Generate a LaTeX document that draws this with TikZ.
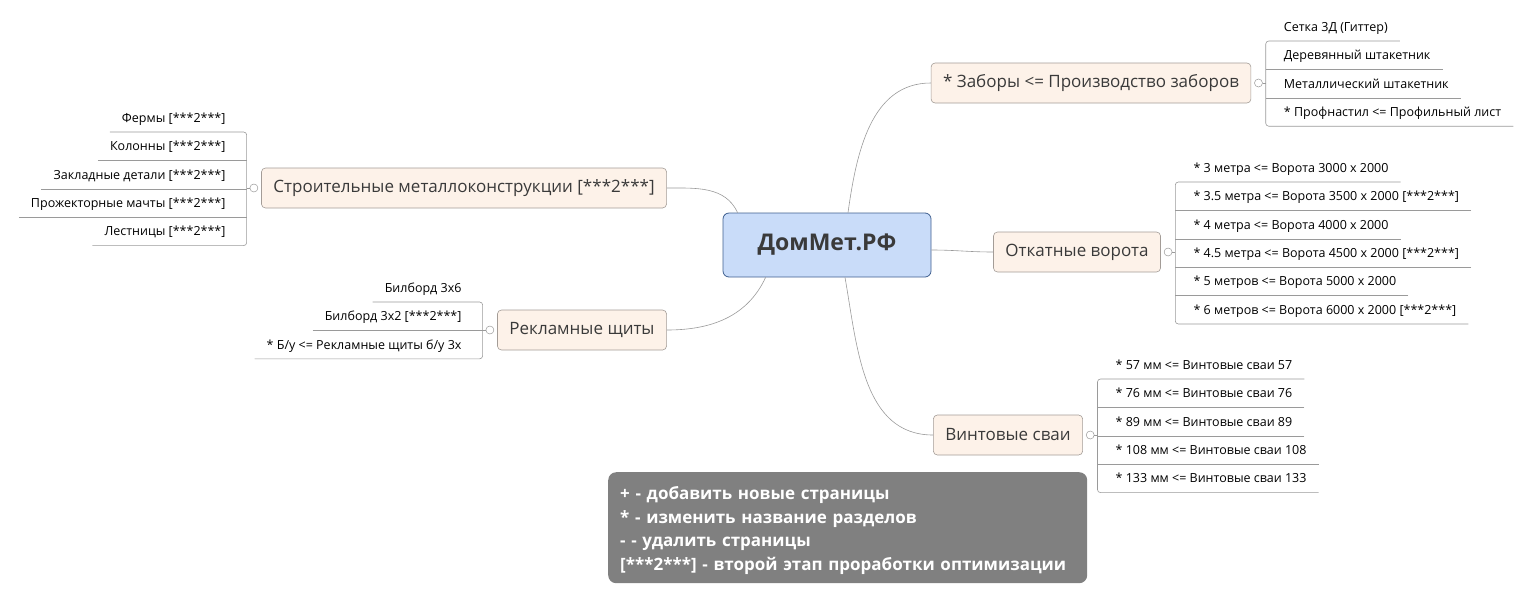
\documentclass[tikz,border=0pt]{standalone}
\usepackage{fontspec}
\setmainfont{Open Sans}
\usepackage{tikz}
\usetikzlibrary{positioning, calc}
\definecolor{MapRootFill}{HTML}{C9DCF9}
\definecolor{MapRootLine}{HTML}{3F5F8F}
\definecolor{MapTopicFill}{HTML}{FDF2E9}
\definecolor{MapTopicLine}{HTML}{A39C97}
\definecolor{MapInk}{HTML}{3A3A3A}
\definecolor{MapWire}{HTML}{9A9A9A}
\definecolor{MapNote}{HTML}{808080}

\begin{document}
\begin{tikzpicture}[x=1pt, y=-1pt,
    root/.style={
      rectangle, rounded corners=6pt, draw=MapRootLine, fill=MapRootFill, line width=0.8pt,
      minimum width=208pt, minimum height=64pt, text=MapInk,
      font=\fontsize{23}{26}\selectfont\bfseries
    },
    topic/.style={
      rectangle, rounded corners=4pt, draw=MapTopicLine, fill=MapTopicFill, line width=0.6pt,
      minimum height=40pt, inner xsep=12pt, text=MapInk, font=\fontsize{17}{20}\selectfont
    },
    leaf/.style={inner xsep=12pt, inner ysep=0pt, minimum height=28pt, text=black,
      text height=9pt, text depth=0pt, font=\fontsize{12.5}{15}\selectfont},
    knob/.style={circle, draw=MapWire, fill=white, line width=0.5pt, minimum size=8pt, inner sep=0pt},
    wire/.style={line width=0.6pt, color=MapWire},
    twig/.style={line width=0.6pt, color=MapWire, rounded corners=3pt},
    note/.style={rectangle, rounded corners=8pt, fill=MapNote, text=white, anchor=north west,
      minimum width=479pt, minimum height=111pt, text width=455pt, inner xsep=12pt, align=left,
      font=\fontsize{17}{23.5}\selectfont\bfseries}
  ]
  \useasboundingbox (0,0) rectangle (1530,600);

  % центр и ветви
  \node[root] (dom) at (827,245) {ДомМет.РФ};
  \node[topic] (zab) at (1091,83) {* Заборы <= Производство заборов};
  \node[topic] (otk) at (1077,252) {Откатные ворота};
  \node[topic] (vin) at (1008,435) {Винтовые сваи};
  \node[topic] (str) at (464,188) {Строительные металлоконструкции [***2***]};
  \node[topic] (rek) at (582,330) {Рекламные щиты};

  \draw[wire] ([xshift=21pt]dom.north) to[out=82, in=180] (zab.west);
  \draw[wire] ([yshift=-5pt]dom.east) to[out=0, in=180] (otk.west);
  \draw[wire] ([xshift=18pt]dom.south) to[out=-80, in=180] (vin.west);
  \draw[wire] ([xshift=15pt]dom.north west) to[out=115, in=0] (str.east);
  \draw[wire] ([xshift=43pt]dom.south west) to[out=-115, in=0] (rek.east);

  % Заборы
  \node[knob, right=3pt of zab] (zab-k) {};
  \coordinate (zab-b) at ([xshift=3pt]zab-k.east);
  \node[leaf, anchor=south west] (zab-1) at ($(zab-b)+(6,-42)$) {Сетка 3Д (Гиттер)};
  \node[leaf, below=0pt of zab-1.south west, anchor=north west] (zab-2) {Деревянный штакетник};
  \node[leaf, below=0pt of zab-2.south west, anchor=north west] (zab-3) {Металлический штакетник};
  \node[leaf, below=0pt of zab-3.south west, anchor=north west] (zab-4) {* Профнастил <= Профильный лист};
  \draw[wire] (zab-k.east) -- (zab-b);
  \draw[twig] (zab-1.south east) -| (zab-4.south -| zab-b) -- (zab-4.south east);
  \draw[twig] (zab-2.south east) -- (zab-2.south -| zab-b);
  \draw[twig] (zab-3.south east) -- (zab-3.south -| zab-b);

  % Откатные ворота
  \node[knob, right=3pt of otk] (otk-k) {};
  \coordinate (otk-b) at ([xshift=3pt]otk-k.east);
  \node[leaf, anchor=south west] (otk-1) at ($(otk-b)+(6,-70)$) {* 3 метра <= Ворота 3000 x 2000};
  \node[leaf, below=0pt of otk-1.south west, anchor=north west] (otk-2) {* 3.5 метра <= Ворота 3500 x 2000 [***2***]};
  \node[leaf, below=0pt of otk-2.south west, anchor=north west] (otk-3) {* 4 метра <= Ворота 4000 x 2000};
  \node[leaf, below=0pt of otk-3.south west, anchor=north west] (otk-4) {* 4.5 метра <= Ворота 4500 x 2000 [***2***]};
  \node[leaf, below=0pt of otk-4.south west, anchor=north west] (otk-5) {* 5 метров <= Ворота 5000 x 2000};
  \node[leaf, below=0pt of otk-5.south west, anchor=north west] (otk-6) {* 6 метров <= Ворота 6000 x 2000 [***2***]};
  \draw[wire] (otk-k.east) -- (otk-b);
  \draw[twig] (otk-1.south east) -| (otk-6.south -| otk-b) -- (otk-6.south east);
  \foreach \i in {2,...,5}
    \draw[twig] (otk-\i.south east) -- (otk-\i.south -| otk-b);

  % Винтовые сваи
  \node[knob, right=3pt of vin] (vin-k) {};
  \coordinate (vin-b) at ([xshift=3pt]vin-k.east);
  \node[leaf, anchor=south west] (vin-1) at ($(vin-b)+(6,-56)$) {* 57 мм <= Винтовые сваи 57};
  \node[leaf, below=0pt of vin-1.south west, anchor=north west] (vin-2) {* 76 мм <= Винтовые сваи 76};
  \node[leaf, below=0pt of vin-2.south west, anchor=north west] (vin-3) {* 89 мм <= Винтовые сваи 89};
  \node[leaf, below=0pt of vin-3.south west, anchor=north west] (vin-4) {* 108 мм <= Винтовые сваи 108};
  \node[leaf, below=0pt of vin-4.south west, anchor=north west] (vin-5) {* 133 мм <= Винтовые сваи 133};
  \draw[wire] (vin-k.east) -- (vin-b);
  \draw[twig] (vin-1.south east) -| (vin-5.south -| vin-b) -- (vin-5.south east);
  \foreach \i in {2,...,4}
    \draw[twig] (vin-\i.south east) -- (vin-\i.south -| vin-b);

  % Строительные металлоконструкции
  \node[knob, left=3pt of str] (str-k) {};
  \coordinate (str-b) at ([xshift=-3pt]str-k.west);
  \node[leaf, anchor=south east] (str-1) at ($(str-b)+(-9,-56)$) {Фермы [***2***]};
  \node[leaf, below=0pt of str-1.south east, anchor=north east] (str-2) {Колонны [***2***]};
  \node[leaf, below=0pt of str-2.south east, anchor=north east] (str-3) {Закладные детали [***2***]};
  \node[leaf, below=0pt of str-3.south east, anchor=north east] (str-4) {Прожекторные мачты [***2***]};
  \node[leaf, below=0pt of str-4.south east, anchor=north east] (str-5) {Лестницы [***2***]};
  \draw[wire] (str-k.west) -- (str-b);
  \draw[twig] (str-1.south west) -| (str-5.south -| str-b) -- (str-5.south west);
  \foreach \i in {2,...,4}
    \draw[twig] (str-\i.south west) -- (str-\i.south -| str-b);

  % Рекламные щиты
  \node[knob, left=3pt of rek] (rek-k) {};
  \coordinate (rek-b) at ([xshift=-3pt]rek-k.west);
  \node[leaf, anchor=south east] (rek-1) at ($(rek-b)+(-9,-28)$) {Билборд 3x6};
  \node[leaf, below=0pt of rek-1.south east, anchor=north east] (rek-2) {Билборд 3x2 [***2***]};
  \node[leaf, below=0pt of rek-2.south east, anchor=north east] (rek-3) {* Б/у <= Рекламные щиты б/у 3х};
  \draw[wire] (rek-k.west) -- (rek-b);
  \draw[twig] (rek-1.south west) -| (rek-3.south -| rek-b) -- (rek-3.south west);
  \draw[twig] (rek-2.south west) -- (rek-2.south -| rek-b);

  % легенда
  \node[note] (legend) at (608,472) {\rule{0pt}{19pt}+ - добавить новые страницы\\{}%
    * - изменить название разделов\\{}%
    - - удалить страницы\\{}%
    [***2***] - второй этап проработки оптимизации};
\end{tikzpicture}
\end{document}
